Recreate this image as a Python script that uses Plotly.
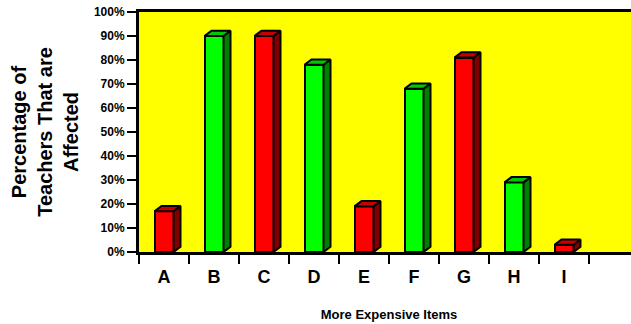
import plotly.graph_objects as go

# Survey results: share of teachers affected by each more-expensive item
categories = ["A", "B", "C", "D", "E", "F", "G", "H", "I"]
percent_affected = [17, 90, 90, 78, 19, 68, 81, 29, 3]
bar_kind = ["red", "green", "red", "green", "red", "green", "red", "green", "red"]

front_colors = {"red": "#FF0000", "green": "#00FF00"}
top_colors = {"red": "#C80000", "green": "#00C800"}
side_colors = {"red": "#800000", "green": "#008000"}

positions = list(range(len(categories)))
bar_w = 0.38       # width of the front face in category units
depth_x = 0.14     # 3D extrusion to the right (category units)
depth_y = 2.2      # 3D extrusion upward (percentage points)
n_slots = 10       # one empty slot after the last category

fig = go.Figure()

fig.add_trace(go.Bar(
    x=positions, y=percent_affected, width=bar_w,
    marker=dict(color=[front_colors[k] for k in bar_kind],
                line=dict(color="black", width=2)),
    hoverinfo="skip", showlegend=False,
))

# Extruded side and top faces built from each bar's value
for kind in ("red", "green"):
    sx, sy, tx, ty = [], [], [], []
    for p, v, k in zip(positions, percent_affected, bar_kind):
        if k != kind:
            continue
        r = p + bar_w / 2
        l = p - bar_w / 2
        sx += [r, r + depth_x, r + depth_x, r, r, None]
        sy += [0, depth_y, v + depth_y, v, 0, None]
        tx += [l, l + depth_x, r + depth_x, r, l, None]
        ty += [v, v + depth_y, v + depth_y, v, v, None]
    fig.add_trace(go.Scatter(
        x=sx, y=sy, mode="lines", fill="toself",
        fillcolor=side_colors[kind], line=dict(color="black", width=2),
        hoverinfo="skip", showlegend=False,
    ))
    fig.add_trace(go.Scatter(
        x=tx, y=ty, mode="lines", fill="toself",
        fillcolor=top_colors[kind], line=dict(color="black", width=2),
        hoverinfo="skip", showlegend=False,
    ))

font_family = "Liberation Sans, Arial, sans-serif"

fig.update_layout(
    width=645, height=324,
    margin=dict(l=139, r=6, t=12, b=72, autoexpand=False),
    paper_bgcolor="white",
    plot_bgcolor="#FFFF00",
    bargap=0,
    font=dict(family=font_family, color="black"),
)

fig.update_xaxes(
    automargin=False,
    range=[-0.5, n_slots - 0.5],
    tickmode="array", tickvals=positions, ticktext=categories,
    ticks="outside", ticklen=6, tickcolor="rgba(0,0,0,0)",
    tickfont=dict(size=18, weight="bold", family=font_family),
    minor=dict(tickvals=[i - 0.5 for i in range(n_slots + 1)],
               ticks="outside", ticklen=9, tickwidth=2, tickcolor="black"),
    showline=True, linecolor="black", linewidth=3, mirror=True,
    showgrid=False, zeroline=False,
    title=dict(text="More Expensive Items", standoff=25,
               font=dict(size=13, weight="bold", family=font_family)),
)

fig.update_yaxes(
    automargin=False,
    range=[0, 100], dtick=10, ticksuffix="%",
    ticks="outside", ticklen=9, tickwidth=2, tickcolor="black",
    tickfont=dict(size=12, weight="bold", family=font_family),
    showline=True, linecolor="black", linewidth=3, mirror=True,
    showgrid=False, zeroline=False,
    title=dict(text="Percentage of<br>Teachers That are<br>Affected", standoff=10,
               font=dict(size=20, weight="bold", family=font_family)),
)

fig.write_html("out.html")
